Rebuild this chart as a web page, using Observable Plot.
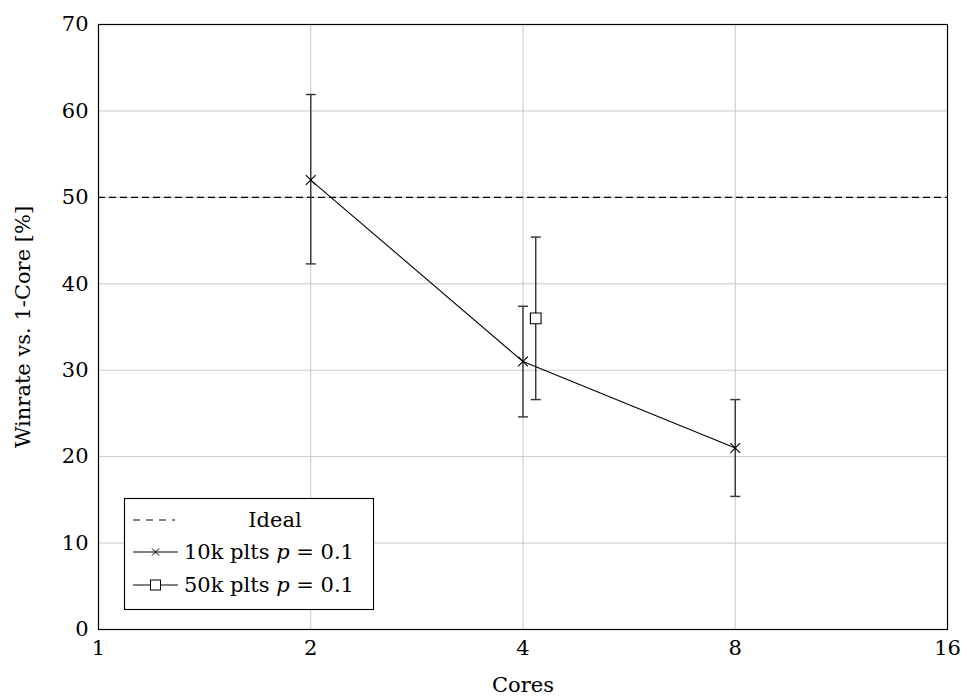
<!DOCTYPE html>
<html>
<head>
<meta charset="utf-8">
<script src="https://cdn.jsdelivr.net/npm/d3@7"></script>
<script src="https://cdn.jsdelivr.net/npm/@observablehq/plot@0.6"></script>
<style>
  body { margin: 0; background: #fff; }
  #wrap { position: relative; width: 962px; height: 700px; }
  #legend { position: absolute; left: 0; top: 0; pointer-events: none; }
  svg text { font-family: "DejaVu Serif", "Liberation Serif", serif; }
</style>
</head>
<body>
<div id="wrap"></div>
<script>
// Data
const xTicks = [1, 2, 4, 8, 16];
const yTicks = [0, 10, 20, 30, 40, 50, 60, 70];
const ideal = [50];

const cores10k = [2, 4, 8];
const win10k = [52, 31, 21];
const low10k = [42.3, 24.6, 15.4];
const high10k = [61.9, 37.4, 26.6];

const cores50k = [4.17];
const win50k = [36];
const low50k = [26.6];
const high50k = [45.4];

const legendLabels = ["Ideal", "10k plts", "50k plts"];

const s10k = cores10k.map((c, i) => ({cores: c, win: win10k[i], low: low10k[i], high: high10k[i]}));
const s50k = cores50k.map((c, i) => ({cores: c, win: win50k[i], low: low50k[i], high: high50k[i]}));
const allErr = s10k.concat(s50k);

const capSymbol = {
  draw(context, size) {
    const w = 5;
    context.moveTo(-w, 0);
    context.lineTo(w, 0);
  }
};

const FONT = "'DejaVu Serif', 'Liberation Serif', serif";
const FS = 21;

const chart = Plot.plot({
  width: 962,
  height: 700,
  marginLeft: 98,
  marginRight: 15,
  marginTop: 24,
  marginBottom: 71,
  style: {fontFamily: FONT, fontSize: FS + "px", background: "#fff", color: "#000"},
  x: {type: "log", base: 2, domain: [1, 16]},
  y: {domain: [0, 70]},
  marks: [
    Plot.gridX(xTicks, {stroke: "#c8c8c8", strokeOpacity: 1, strokeWidth: 1}),
    Plot.gridY(yTicks, {stroke: "#c8c8c8", strokeOpacity: 1, strokeWidth: 1}),
    Plot.axisX(xTicks, {tickSize: 0, tickPadding: 11, tickFormat: d => String(d), label: null, fontSize: FS}),
    Plot.axisY(yTicks, {tickSize: 0, tickPadding: 10, label: null, fontSize: FS}),
    Plot.text(["Cores"], {frameAnchor: "bottom", dy: 62, fontSize: FS}),
    Plot.text(["Winrate vs. 1-Core [%]"], {frameAnchor: "left", textAnchor: "middle", rotate: -90, dx: -75, fontSize: FS}),
    Plot.ruleY(ideal, {stroke: "#000", strokeWidth: 1.1, strokeDasharray: "7,4"}),
    Plot.ruleX(allErr, {x: "cores", y1: "low", y2: "high", stroke: "#333", strokeWidth: 1.4}),
    Plot.dot(allErr, {x: "cores", y: "low", symbol: capSymbol, stroke: "#333", strokeWidth: 1.4, r: 3}),
    Plot.dot(allErr, {x: "cores", y: "high", symbol: capSymbol, stroke: "#333", strokeWidth: 1.4, r: 3}),
    Plot.line(s10k, {x: "cores", y: "win", stroke: "#000", strokeWidth: 1.1}),
    Plot.dot(s10k, {x: "cores", y: "win", symbol: "times", r: 4.5, stroke: "#000", strokeWidth: 1.1}),
    Plot.dot(s50k, {x: "cores", y: "win", symbol: "square", r: 6, stroke: "#000", fill: "#fff", strokeWidth: 1.1}),
    Plot.frame({stroke: "#000", strokeWidth: 1.2})
  ]
});
document.getElementById("wrap").appendChild(chart);

// Legend overlay
const lg = d3.select("#wrap").append("svg")
  .attr("id", "legend").attr("width", 962).attr("height", 700)
  .style("font-family", FONT);
lg.append("rect").attr("x", 124.5).attr("y", 498.5).attr("width", 249).attr("height", 111)
  .attr("fill", "#fff").attr("stroke", "#000").attr("stroke-width", 1.1);
const rows = [520, 552, 585];
lg.append("line").attr("x1", 133).attr("x2", 175).attr("y1", rows[0]).attr("y2", rows[0])
  .attr("stroke", "#000").attr("stroke-width", 1).attr("stroke-dasharray", "7,6");
lg.append("text").attr("x", 275).attr("y", rows[0]).attr("dy", "0.35em").attr("text-anchor", "middle")
  .attr("font-size", FS).text(legendLabels[0]);
lg.append("line").attr("x1", 133).attr("x2", 178).attr("y1", rows[1]).attr("y2", rows[1])
  .attr("stroke", "#000").attr("stroke-width", 1);
lg.append("path").attr("d", `M${155.5-3.5},${rows[1]-3.5}L${155.5+3.5},${rows[1]+3.5}M${155.5-3.5},${rows[1]+3.5}L${155.5+3.5},${rows[1]-3.5}`)
  .attr("stroke", "#000").attr("stroke-width", 1);
lg.append("line").attr("x1", 133).attr("x2", 178).attr("y1", rows[2]).attr("y2", rows[2])
  .attr("stroke", "#000").attr("stroke-width", 1);
lg.append("rect").attr("x", 150.5).attr("y", rows[2] - 5).attr("width", 10).attr("height", 10)
  .attr("fill", "#fff").attr("stroke", "#000").attr("stroke-width", 1);
[1, 2].forEach(i => {
  const t = lg.append("text").attr("x", 184).attr("y", rows[i]).attr("dy", "0.35em").attr("font-size", FS);
  t.append("tspan").text(legendLabels[i] + " ");
  t.append("tspan").attr("font-style", "italic").text("p");
  t.append("tspan").text(" = 0.1");
});
</script>
</body>
</html>
